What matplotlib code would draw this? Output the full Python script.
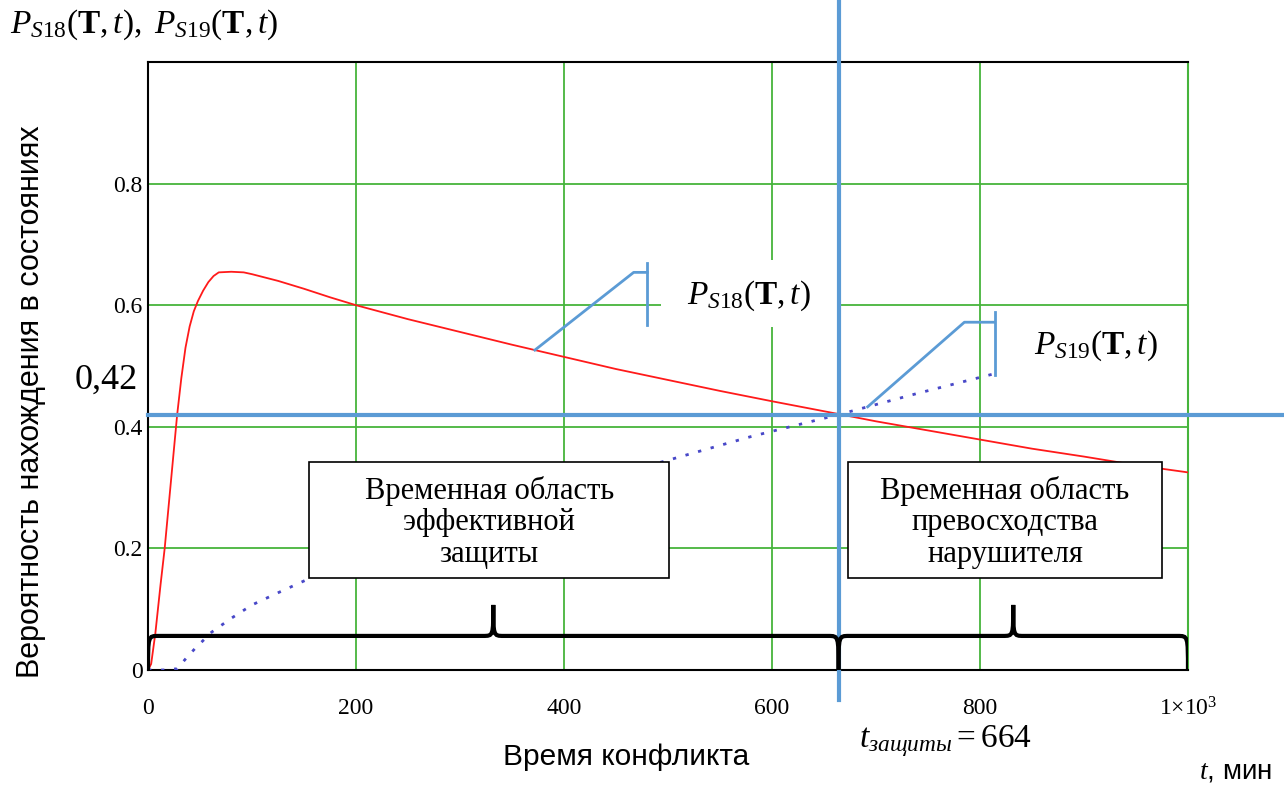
import numpy as np
import matplotlib
matplotlib.use('Agg')
import matplotlib.pyplot as plt
from matplotlib.patches import Rectangle, PathPatch
from matplotlib.path import Path

plt.rcParams['mathtext.fontset'] = 'custom'
plt.rcParams['mathtext.rm'] = 'Liberation Serif'
plt.rcParams['mathtext.it'] = 'Liberation Serif:italic'
plt.rcParams['mathtext.bf'] = 'Liberation Serif:bold'

# P_S18(T,t) - red curve
t_s18 = [0, 3, 7, 12, 16, 22, 28, 32, 36, 40, 44, 48, 53, 58, 63, 68, 80, 92,
         100, 125, 150, 175, 200, 250, 300, 350, 400, 450, 500, 550, 600, 664,
         700, 750, 800, 850, 900, 950, 1000]
p_s18 = [0, 0.01, 0.06, 0.14, 0.20, 0.31, 0.42, 0.48, 0.53, 0.565, 0.59, 0.607,
         0.624, 0.638, 0.648, 0.654, 0.655, 0.654,
         0.651, 0.640, 0.627, 0.613, 0.600, 0.577, 0.556, 0.535, 0.515, 0.495,
         0.477, 0.459, 0.442, 0.421,
         0.409, 0.394, 0.379, 0.364, 0.351, 0.337, 0.325]

# P_S19(T,t) - dotted curve
t_s19 = [0, 15, 28, 37, 45, 61, 80, 100, 125, 152, 200, 300, 400, 500, 580,
         664, 740, 820]
p_s19 = [0, 0, 0.002, 0.02, 0.035, 0.062, 0.085, 0.107, 0.127, 0.148, 0.182,
         0.245, 0.298, 0.345, 0.384, 0.42, 0.455, 0.49]

t_protect = 664
p_cross = 0.42

xticks = [0, 200, 400, 600, 800, 1000]
xticklabels = ['0', '200', '400', '600', '800', r'$1{\times}10^{3}$']
yticks = [0, 0.2, 0.4, 0.6, 0.8]
yticklabels = ['0', '0.2', '0.4', '0.6', '0.8']

green = '#46b43c'
blue = '#5b9bd5'

fig = plt.figure(figsize=(12.84, 7.87), dpi=100)
ax = fig.add_axes([0.1153, 0.1487, 0.8099, 0.7725])
ax.set_xlim(0, 1000)
ax.set_ylim(0, 1)
ax.set_axisbelow(True)

ax.set_xticks(xticks)
ax.set_xticklabels(xticklabels, fontfamily='Liberation Serif', fontsize=17)
ax.set_yticks(yticks)
ax.set_yticklabels(yticklabels, fontfamily='Liberation Serif', fontsize=17)
ax.tick_params(length=0)
ax.tick_params(axis='x', pad=20)
ax.tick_params(axis='y', pad=4)
ax.grid(True, color=green, lw=1.3)

for s in ['left', 'bottom', 'top']:
    ax.spines[s].set_color('black')
    ax.spines[s].set_linewidth(1.5)
ax.spines['right'].set_color(green)
ax.spines['right'].set_linewidth(1.5)

# curves
ax.plot(t_s18, p_s18, color='#ff1a1a', lw=1.3, zorder=3)
ax.plot(t_s19, p_s19, color='#4848c8', lw=2, linestyle=(0, (1.2, 3.5)), zorder=3)

# white area behind the P_S18 label (hides the grid lines)
ax.add_patch(Rectangle((493, 0.564), t_protect - 493, 0.11, facecolor='white',
                       edgecolor='none', zorder=1))

# crossing lines at t=664 and 0.42
ax.plot([0, 1092], [p_cross, p_cross], color=blue, lw=3, clip_on=False, zorder=4)
ax.plot([t_protect, t_protect], [-0.05, 1.1], color=blue, lw=3, clip_on=False, zorder=4)

# leader lines to the curve labels
def leader(t0, y0, t1, y1, tb, yb0, yb1):
    ax.plot([t0, t1, tb], [y0, y1, y1], color=blue, lw=2, zorder=4)
    ax.plot([tb, tb], [yb0, yb1], color=blue, lw=2, zorder=4)

leader(372, np.interp(372, t_s18, p_s18), 467, 0.654, 480, 0.67, 0.567)
leader(692, np.interp(692, t_s19, p_s19), 785, 0.572, 814, 0.588, 0.485)

ax.text(518, 0.616, r'$P_{S18}(\mathbf{T},t)$', fontsize=24, va='center', ha='left', zorder=5)
ax.text(852, 0.534, r'$P_{S19}(\mathbf{T},t)$', fontsize=24, va='center', ha='left', zorder=5)

# text boxes
boxes = [(155, 501, 'Временная область\nэффективной\nзащиты'),
         (673, 975, 'Временная область\nпревосходства\nнарушителя')]
for a, b, txt in boxes:
    ax.add_patch(Rectangle((a, 0.151), b - a, 0.191, facecolor='white',
                           edgecolor='black', lw=1.2, zorder=6))
    ax.text((a + b) / 2, 0.243, txt, ha='center', va='center', fontsize=22,
            fontfamily='Liberation Serif', linespacing=1.12, zorder=7)

# curly braces
def brace(t0, t1, yb, ytip, w=10):
    tm = (t0 + t1) / 2
    verts = [(t0, 0), (t0, yb), (t0, yb), (t0 + w, yb),
             (tm - w, yb),
             (tm, yb), (tm, yb), (tm, ytip),
             (tm, yb), (tm, yb), (tm + w, yb),
             (t1 - w, yb),
             (t1, yb), (t1, yb), (t1, 0)]
    codes = [Path.MOVETO, Path.CURVE4, Path.CURVE4, Path.CURVE4,
             Path.LINETO,
             Path.CURVE4, Path.CURVE4, Path.CURVE4,
             Path.CURVE4, Path.CURVE4, Path.CURVE4,
             Path.LINETO,
             Path.CURVE4, Path.CURVE4, Path.CURVE4]
    ax.add_patch(PathPatch(Path(verts, codes), facecolor='none',
                           edgecolor='black', lw=3, zorder=6, capstyle='round'))

brace(0, t_protect, 0.056, 0.107)
brace(t_protect, 1000, 0.056, 0.107)

# figure texts
fig.text(0.0078, 0.968, r'$P_{S18}(\mathbf{T},t),\ P_{S19}(\mathbf{T},t)$',
         fontsize=24, ha='left', va='center')
fig.text(0.058, 0.517, '0,42', fontsize=26, fontfamily='Liberation Serif',
         ha='left', va='center')
fig.text(0.024, 0.49, 'Вероятность нахождения в состояниях', rotation=90,
         fontsize=22, fontfamily='Liberation Sans', ha='center', va='center')
fig.text(0.488, 0.038, 'Время конфликта', fontsize=21.5,
         fontfamily='Liberation Sans', ha='center', va='center')
fig.text(0.736, 0.058, r'$t_{\mathit{защиты}}=664$', fontsize=24,
         ha='center', va='center')
fig.text(0.962, 0.02, r'$t$, мин', fontsize=20, fontfamily='Liberation Sans',
         ha='center', va='center')

fig.savefig('out.png', dpi=100)
